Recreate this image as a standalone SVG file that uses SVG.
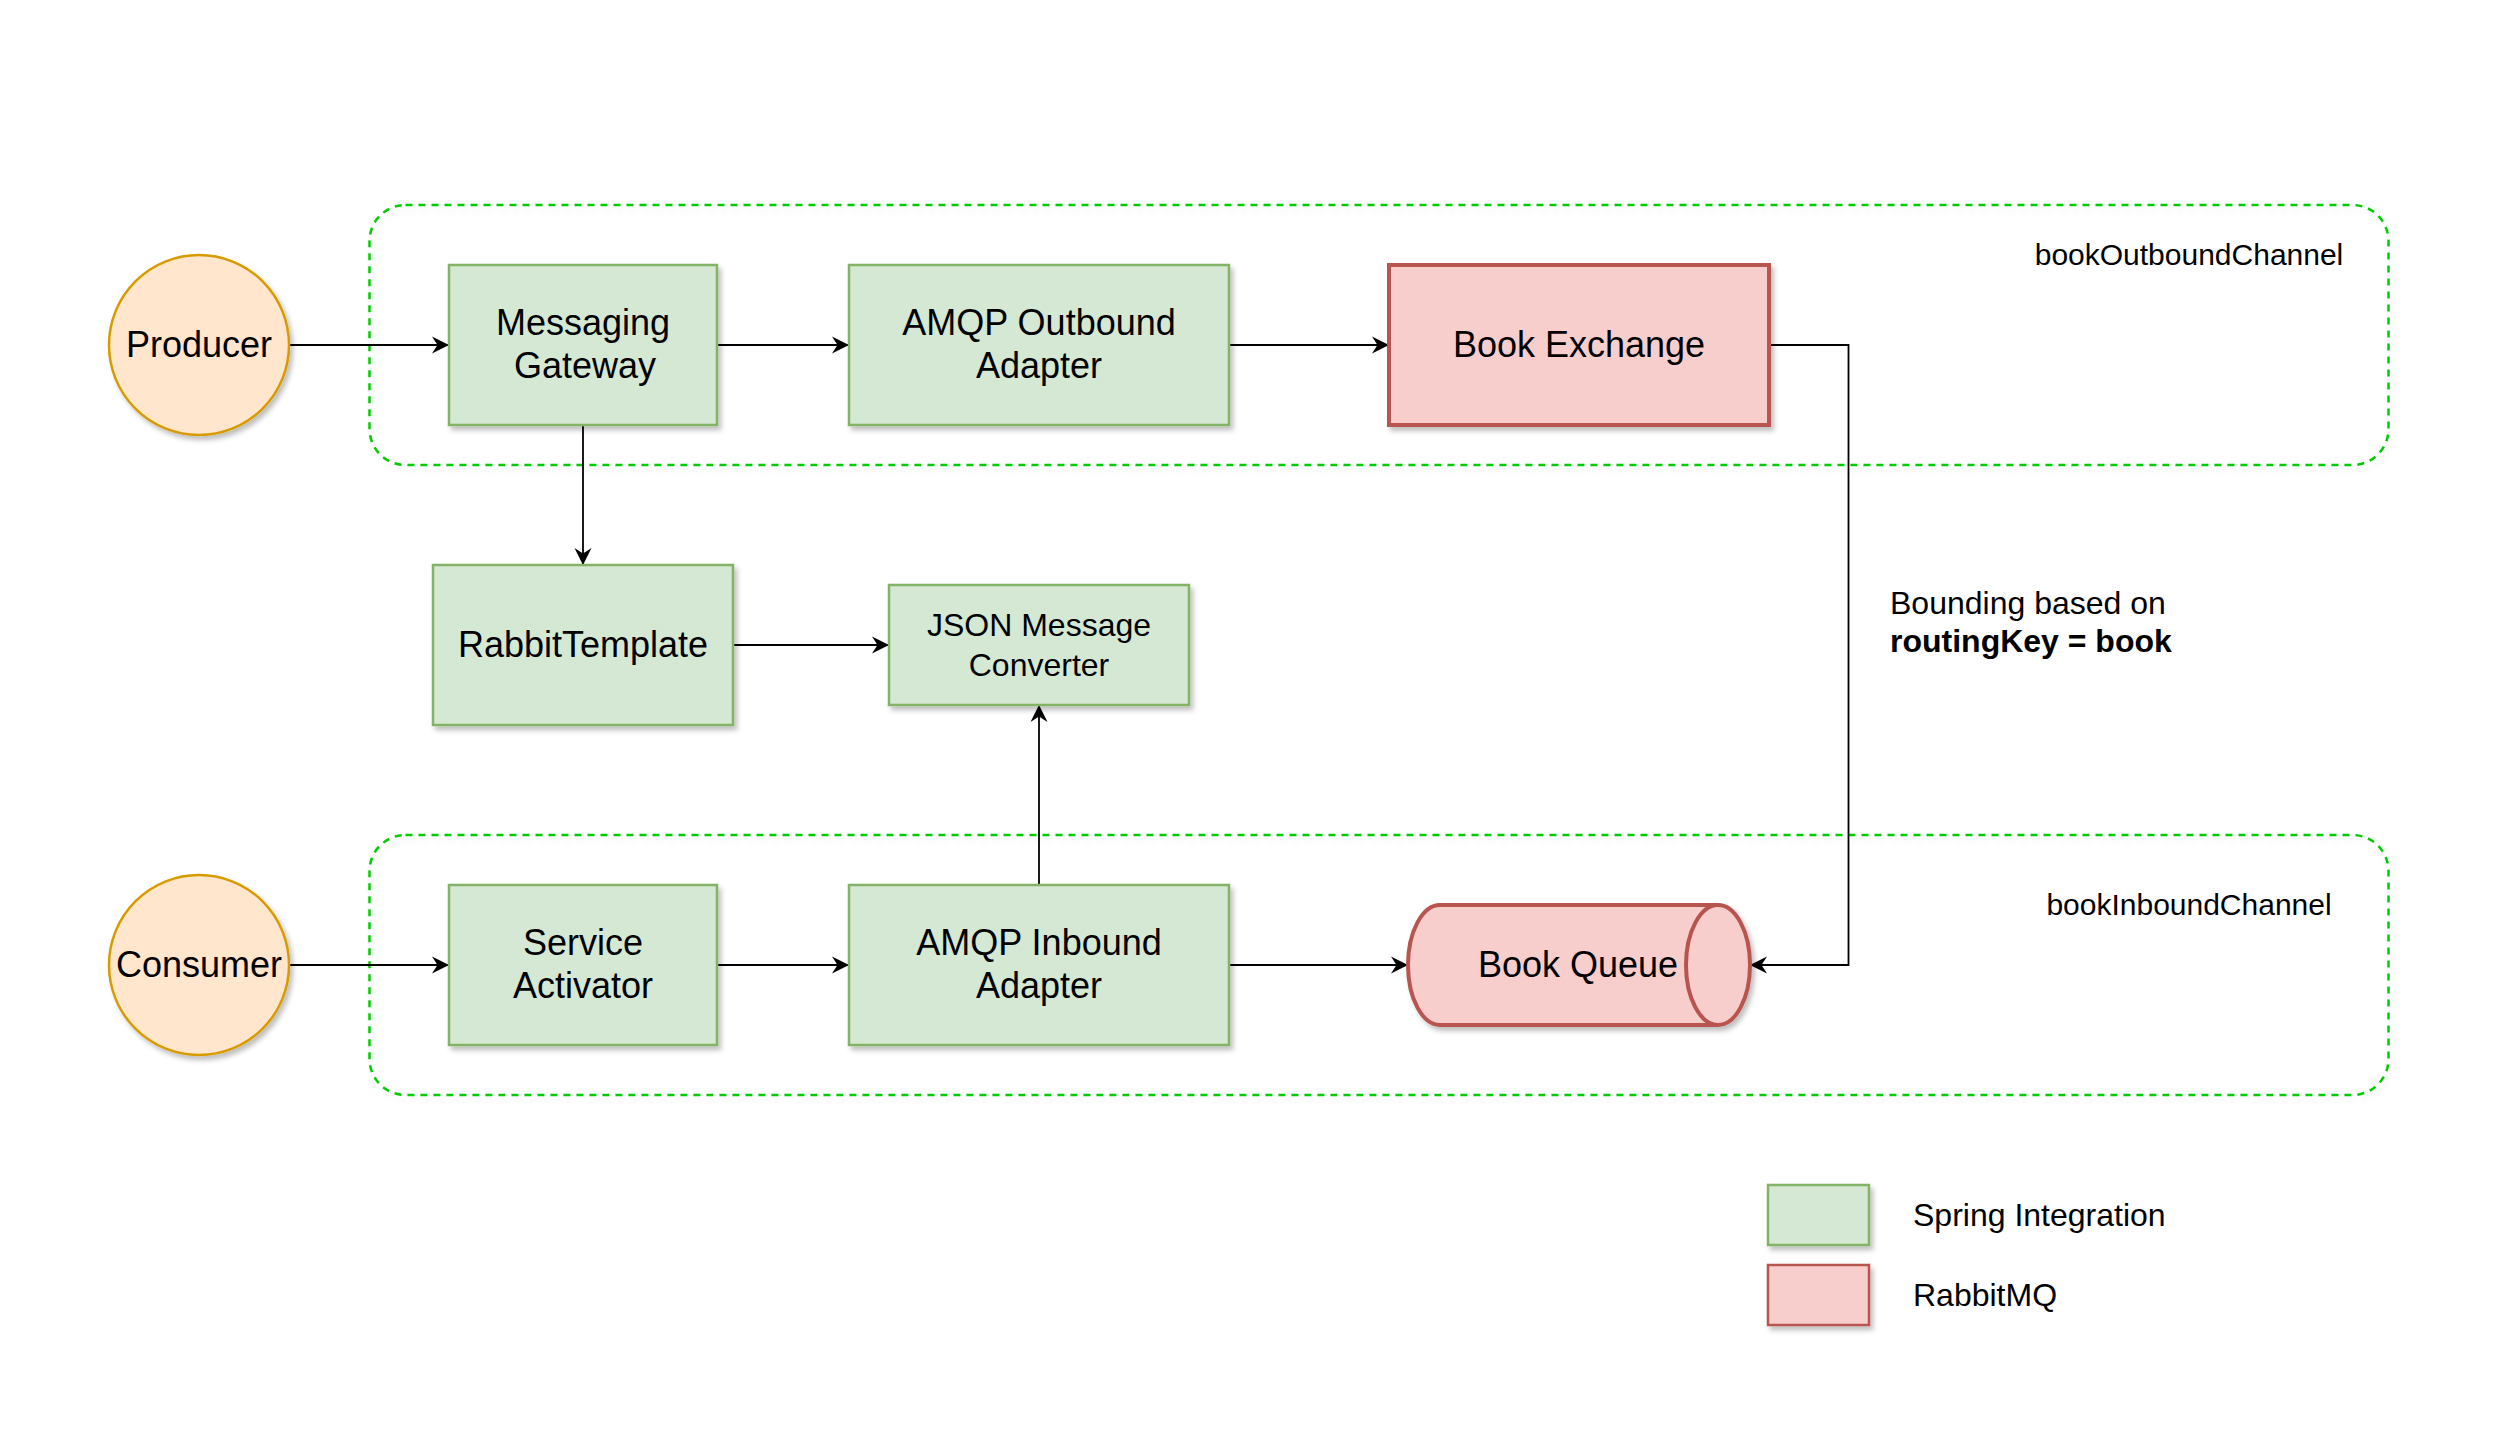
<svg xmlns="http://www.w3.org/2000/svg" width="2502" height="1440" viewBox="0 0 2502 1440">
  <defs>
    <filter id="sh" x="-10%" y="-10%" width="130%" height="140%">
      <feDropShadow dx="3" dy="4" stdDeviation="2.5" flood-color="#000" flood-opacity="0.25"/>
    </filter>
    <filter id="shl" x="-2%" y="-5%" width="104%" height="115%">
      <feDropShadow dx="3" dy="4" stdDeviation="3" flood-color="#000" flood-opacity="0.08"/>
    </filter>
    <marker id="arr" viewBox="-18 -10 20 20" refX="0" refY="0" markerWidth="20" markerHeight="20" orient="auto" markerUnits="userSpaceOnUse">
      <path d="M0,0 L-17,-8.5 L-11.5,0 L-17,8.5 Z" fill="#000"/>
    </marker>
  </defs>
  <style>
    text { font-family: "Liberation Sans", Arial, Helvetica, sans-serif; fill: #000; }
    .lbl { font-size: 36px; text-anchor: middle; }
    .sm { font-size: 32px; }
    .ch { font-size: 30px; text-anchor: middle; }
    .si { fill: #d5e8d4; stroke: #82b366; stroke-width: 2.5; }
    .rq { fill: #f8cecc; stroke: #b85450; stroke-width: 4; }
    .rql { fill: #f8cecc; stroke: #b85450; stroke-width: 2.5; }
    .act { fill: #ffe6cc; stroke: #d79b00; stroke-width: 2.5; }
    .chan { fill: none; stroke: #00cc00; stroke-width: 2.5; stroke-dasharray: 7 6; }
    .edge { fill: none; stroke: #000; stroke-width: 1.8; }
  </style>
  <rect width="2502" height="1440" fill="#ffffff"/>

  <g id="bookOutboundChannel">
    <rect class="chan" x="369.5" y="205" width="2019" height="260" rx="36" ry="36" filter="url(#shl)"/>
    <text class="ch" x="2189" y="265">bookOutboundChannel</text>
  </g>
  <g id="bookInboundChannel">
    <rect class="chan" x="369.5" y="835" width="2019" height="260" rx="36" ry="36" filter="url(#shl)"/>
    <text class="ch" x="2189" y="915">bookInboundChannel</text>
  </g>

  <g id="connectors">
    <path class="edge" d="M289,345 H449" marker-end="url(#arr)"/>
    <path class="edge" d="M717,345 H849" marker-end="url(#arr)"/>
    <path class="edge" d="M1229,345 H1389" marker-end="url(#arr)"/>
    <path class="edge" d="M583,425 V565" marker-end="url(#arr)"/>
    <path class="edge" d="M733,645 H889" marker-end="url(#arr)"/>
    <path class="edge" d="M1039,885 V705" marker-end="url(#arr)"/>
    <path class="edge" d="M289,965 H449" marker-end="url(#arr)"/>
    <path class="edge" d="M717,965 H849" marker-end="url(#arr)"/>
    <path class="edge" d="M1229,965 H1408" marker-end="url(#arr)"/>
    <path class="edge" d="M1769,345 H1848.5 V965 H1750" marker-end="url(#arr)"/>
  </g>

  <g id="producer">
    <circle class="act" cx="199" cy="345" r="90" filter="url(#sh)"/>
    <text class="lbl" x="199" y="357">Producer</text>
  </g>
  <g id="messagingGateway">
    <rect class="si" x="449" y="265" width="268" height="160" filter="url(#sh)"/>
    <text class="lbl" x="583" y="334.5">Messaging</text>
    <text class="lbl" x="585" y="377.5">Gateway</text>
  </g>
  <g id="amqpOutboundAdapter">
    <rect class="si" x="849" y="265" width="380" height="160" filter="url(#sh)"/>
    <text class="lbl" x="1039" y="334.5">AMQP Outbound</text>
    <text class="lbl" x="1039" y="377.5">Adapter</text>
  </g>
  <g id="bookExchange">
    <rect class="rq" x="1389" y="265" width="380" height="160" filter="url(#sh)"/>
    <text class="lbl" x="1579" y="357">Book Exchange</text>
  </g>
  <g id="rabbitTemplate">
    <rect class="si" x="433" y="565" width="300" height="160" filter="url(#sh)"/>
    <text class="lbl" x="583" y="657">RabbitTemplate</text>
  </g>
  <g id="jsonMessageConverter">
    <rect class="si" x="889" y="585" width="300" height="120" filter="url(#sh)"/>
    <text class="sm" x="1039" y="636" text-anchor="middle">JSON Message</text>
    <text class="sm" x="1039" y="676" text-anchor="middle">Converter</text>
  </g>
  <g id="bindingLabel">
    <text class="sm" x="1890" y="614">Bounding based on</text>
    <text class="sm" x="1890" y="652" font-weight="bold">routingKey = book</text>
  </g>
  <g id="consumer">
    <circle class="act" cx="199" cy="965" r="90" filter="url(#sh)"/>
    <text class="lbl" x="199" y="977">Consumer</text>
  </g>
  <g id="serviceActivator">
    <rect class="si" x="449" y="885" width="268" height="160" filter="url(#sh)"/>
    <text class="lbl" x="583" y="954.5">Service</text>
    <text class="lbl" x="583" y="997.5">Activator</text>
  </g>
  <g id="amqpInboundAdapter">
    <rect class="si" x="849" y="885" width="380" height="160" filter="url(#sh)"/>
    <text class="lbl" x="1039" y="954.5">AMQP Inbound</text>
    <text class="lbl" x="1039" y="997.5">Adapter</text>
  </g>
  <g id="bookQueue">
    <path class="rq" d="M1440,905 H1718 A32,60 0 0 1 1718,1025 H1440 A32,60 0 0 1 1440,905 Z" filter="url(#sh)"/>
    <path class="rq" d="M1718,905 A32,60 0 0 0 1718,1025" fill="none"/>
    <text class="lbl" x="1578" y="977">Book Queue</text>
  </g>
  <g id="legend">
    <rect class="si" x="1768" y="1185" width="101" height="60" filter="url(#sh)"/>
    <text class="sm" x="1913" y="1226">Spring Integration</text>
    <rect class="rql" x="1768" y="1265" width="101" height="60" filter="url(#sh)"/>
    <text class="sm" x="1913" y="1306">RabbitMQ</text>
  </g>
</svg>
